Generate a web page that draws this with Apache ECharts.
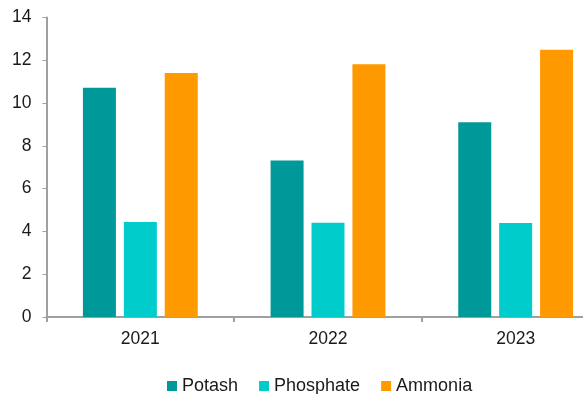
<!DOCTYPE html>
<html><head><meta charset="utf-8">
<script src="https://cdn.jsdelivr.net/npm/echarts@6/dist/echarts.min.js"></script>
<style>html,body{margin:0;padding:0;background:#fff}#c{width:583px;height:394px}</style>
</head><body><div id="c"></div>
<script>
var categories = ['2021', '2022', '2023'];
var potash = [10.72, 7.32, 9.1];
var phosphate = [4.44, 4.4, 4.39];
var ammonia = [11.4, 11.81, 12.49];
var seriesNames = ['Potash', 'Phosphate', 'Ammonia'];
var colors = ['#009999', '#00CCCC', '#FF9900'];

var chart = echarts.init(document.getElementById('c'), null, {renderer: 'canvas'});
var font = 'Liberation Sans, Arial, sans-serif';
function mk(name, data, color) {
  return {name: name, type: 'bar', data: data, barWidth: 33, barGap: '24%',
    itemStyle: {color: color}};
}
chart.setOption({
  animation: false,
  textStyle: {fontFamily: font},
  color: colors,
  grid: {left: 46.5, top: 17.5, height: 299.5, width: 563, containLabel: false, outerBoundsMode: 'none'},
  legend: {
    data: seriesNames, left: 162, top: 372, padding: 5, itemWidth: 10, itemHeight: 10,
    itemGap: 21, icon: 'rect',
    textStyle: {fontSize: 18, color: '#1a1a1a', fontFamily: font}
  },
  xAxis: {
    type: 'category', data: categories,
    axisLine: {lineStyle: {color: '#a0a0a0', width: 2}},
    axisTick: {show: true, length: 5, lineStyle: {color: '#a0a0a0', width: 2}},
    axisLabel: {fontSize: 17.5, color: '#1a1a1a', margin: 13, fontFamily: font}
  },
  yAxis: {
    type: 'value', min: 0, max: 14, interval: 2,
    splitLine: {show: false},
    axisLine: {show: true, lineStyle: {color: '#a0a0a0', width: 2}},
    axisTick: {show: true, length: 4, lineStyle: {color: '#a0a0a0', width: 1}},
    axisLabel: {fontSize: 17.5, color: '#1a1a1a', margin: 15, fontFamily: font}
  },
  series: [mk(seriesNames[0], potash, colors[0]), mk(seriesNames[1], phosphate, colors[1]), mk(seriesNames[2], ammonia, colors[2])]
});
</script></body></html>
